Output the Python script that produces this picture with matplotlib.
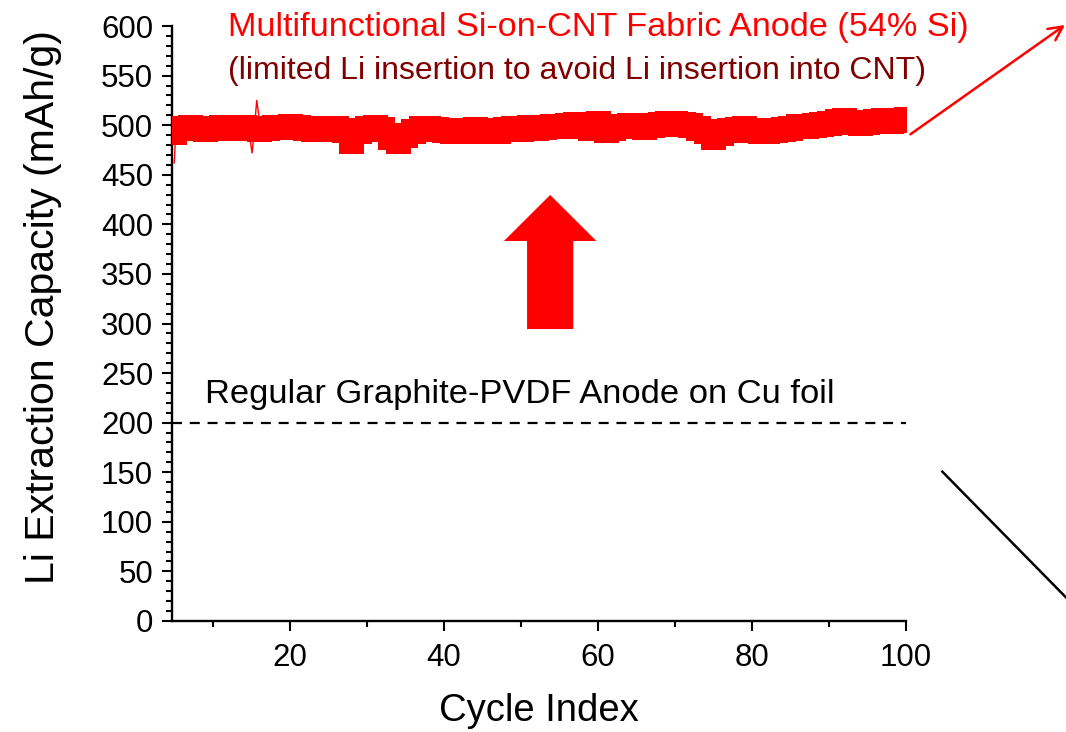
import numpy as np
import matplotlib.pyplot as plt
from matplotlib.ticker import MultipleLocator
from matplotlib.lines import Line2D

plt.rcParams['font.family'] = ['Liberation Sans', 'DejaVu Sans']

# Li extraction capacity of the Si-on-CNT fabric anode, cycles 5..100
cycles = np.arange(5, 101)
capacity = [493, 497, 498, 497, 496, 497, 498, 497, 498, 498,
            497, 496, 497, 498, 498, 499, 498, 497, 496, 497,
            496, 497, 495, 484, 494, 497, 498, 496, 488, 484,
            490, 494, 497, 497, 496, 495, 494, 495, 494, 496,
            494, 495, 494, 496, 497, 496, 498, 497, 498, 499,
            499, 500, 501, 499, 497, 502, 495, 497, 499, 500,
            499, 498, 500, 501, 502, 502, 501, 500, 497, 494,
            488, 492, 495, 496, 497, 495, 494, 494, 495, 496,
            497, 499, 499, 500, 501, 502, 504, 505, 503, 502,
            503, 504, 505, 504, 505, 506]

# stray single readings drawn as a thin trace
spike_cycles = [5.0, 5.2, 14.6, 15.1, 15.4, 15.7, 16.2]
spike_values = [462, 497, 497, 472, 497, 525, 497]

graphite_capacity = 200
xlim = (4.7, 100)
ylim = (0, 600)

fig = plt.figure(figsize=(10.66, 7.32), dpi=100)
ax = fig.add_axes([0.16135, 0.15164, 0.68856, 0.81284])

ax.plot(spike_cycles, spike_values, color='red', lw=1.0, zorder=2)
ax.plot(cycles, capacity, color='red', lw=2, marker='s', markersize=18,
        markeredgewidth=0, zorder=3)

ax.axhline(graphite_capacity, color='black', lw=1.6, dashes=(4.5, 3.5))

ax.set_xlim(*xlim)
ax.set_ylim(*ylim)
ax.xaxis.set_major_locator(MultipleLocator(20))
ax.xaxis.set_minor_locator(MultipleLocator(10))
ax.yaxis.set_major_locator(MultipleLocator(50))
ax.yaxis.set_minor_locator(MultipleLocator(10))

for side in ['top', 'right']:
    ax.spines[side].set_visible(False)
for side in ['left', 'bottom']:
    ax.spines[side].set_linewidth(1.7)

ax.tick_params(which='major', direction='out', length=7.5, width=1.5,
               labelsize=22.5, pad=6)
ax.tick_params(axis='x', which='major', pad=8)
ax.tick_params(which='minor', direction='out', length=4, width=1.5)

ax.set_xlabel('Cycle Index', fontsize=27.5, labelpad=15)
ax.set_ylabel('Li Extraction Capacity (mAh/g)', fontsize=29.5)
ax.yaxis.set_label_coords(-0.15, 0.528)

# labels
ax.text(12.0, 590, 'Multifunctional Si-on-CNT Fabric Anode (54% Si)',
        color='red', fontsize=24.7, ha='left', va='baseline')
ax.text(12.0, 547, '(limited Li insertion to avoid Li insertion into CNT)',
        color='#800000', fontsize=23, ha='left', va='baseline')
ax.text(9.0, 220, 'Regular Graphite-PVDF Anode on Cu foil',
        color='black', fontsize=24.8, ha='left', va='baseline')

# big upward arrow
ax.arrow(53.8, 294.4, 0, 135.2, width=6, head_width=12, head_length=46.4,
         length_includes_head=True, color='red', lw=0, zorder=4)

# pointer arrows leaving the plot area
ax.annotate('', xy=(1.2166, 1.0017), xytext=(1.006, 0.818),
            xycoords='axes fraction', textcoords='axes fraction',
            annotation_clip=False,
            arrowprops=dict(arrowstyle='->', color='red', lw=1.8,
                            mutation_scale=25, shrinkA=0, shrinkB=0))
ax.add_line(Line2D([1.0495, 1.24], [0.251, 0.012], transform=ax.transAxes,
                   color='black', lw=1.8, clip_on=False))

fig.savefig('out.png', dpi=100)
